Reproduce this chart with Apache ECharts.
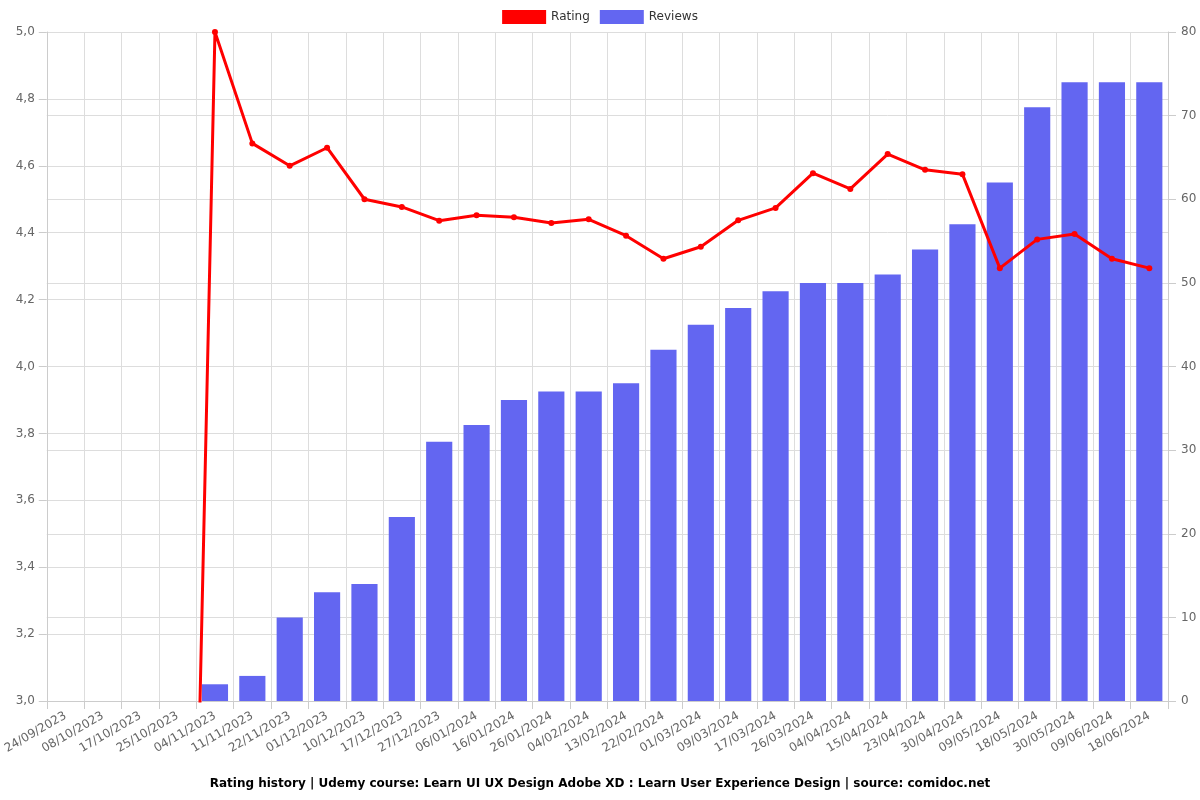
<!DOCTYPE html>
<html>
<head>
<meta charset="utf-8">
<script src="https://cdn.jsdelivr.net/npm/echarts@6/dist/echarts.min.js"></script>
<style>html,body{margin:0;padding:0;background:#fff}#c{width:1200px;height:800px}</style>
</head>
<body>
<div id="c"></div>
<script>
var categories = ["24/09/2023","08/10/2023","17/10/2023","25/10/2023","04/11/2023","11/11/2023","22/11/2023","01/12/2023","10/12/2023","17/12/2023","27/12/2023","06/01/2024","16/01/2024","26/01/2024","04/02/2024","13/02/2024","22/02/2024","01/03/2024","09/03/2024","17/03/2024","26/03/2024","04/04/2024","15/04/2024","23/04/2024","30/04/2024","09/05/2024","18/05/2024","30/05/2024","09/06/2024","18/06/2024"];
var rating = [0,0,0,0,5.0,4.667,4.6,4.654,4.5,4.477,4.436,4.452,4.446,4.429,4.44,4.391,4.322,4.358,4.437,4.474,4.578,4.531,4.635,4.588,4.575,4.294,4.38,4.396,4.322,4.294];
var reviews = [0,0,0,0,2,3,10,13,14,22,31,33,36,37,37,38,42,45,47,49,50,50,51,54,57,62,71,74,74,74];
var leftTicks = {min: 3, max: 5, interval: 0.2};
var rightTicks = {min: 0, max: 80, interval: 10};

var chart = echarts.init(document.getElementById('c'), null, {renderer: 'canvas'});
var font = 'DejaVu Sans';
chart.setOption({
  animation: false,
  textStyle: {fontFamily: font},
  title: {
    text: 'Rating history | Udemy course: Learn UI UX Design Adobe XD : Learn User Experience Design | source: comidoc.net',
    left: 'center', bottom: 5,
    textStyle: {fontSize: 12, fontWeight: 'bold', color: '#000', fontFamily: font}
  },
  legend: {
    top: 5, left: 'center', itemWidth: 44, itemHeight: 14, itemGap: 10,
    textStyle: {fontSize: 12, color: '#333', fontFamily: font},
    data: [{name: 'Rating', icon: 'rect'}, {name: 'Reviews', icon: 'rect'}]
  },
  grid: {left: 45, right: 32, top: 32, bottom: 99},
  xAxis: {
    type: 'category', data: categories, boundaryGap: true,
    axisLine: {lineStyle: {color: '#ccc'}},
    axisTick: {show: true, length: 8, lineStyle: {color: '#ccc'}},
    axisLabel: {rotate: 30, interval: 0, fontSize: 12, color: '#666', fontFamily: font, margin: 14},
    splitLine: {show: true, lineStyle: {color: '#ddd'}}
  },
  yAxis: [
    {type: 'value', min: leftTicks.min, max: leftTicks.max, interval: leftTicks.interval,
     axisLine: {show: true, lineStyle: {color: '#ccc'}},
     axisTick: {show: true, length: 8, lineStyle: {color: '#ccc'}},
     axisLabel: {color: '#666', fontSize: 12, fontFamily: font, margin: 12, formatter: function(v){return v.toFixed(1).replace('.', ',');}},
     splitLine: {show: true, lineStyle: {color: '#ddd'}}},
    {type: 'value', min: rightTicks.min, max: rightTicks.max, interval: rightTicks.interval,
     axisLine: {show: true, lineStyle: {color: '#ccc'}},
     axisTick: {show: true, length: 8, lineStyle: {color: '#ccc'}},
     axisLabel: {color: '#666', fontSize: 12, fontFamily: font, margin: 13},
     splitLine: {show: true, lineStyle: {color: '#ddd'}}}
  ],
  series: [
    {name: 'Rating', type: 'line', yAxisIndex: 0, data: rating, z: 3,
     color: '#ff0000', symbol: 'circle', symbolSize: 6, showAllSymbol: true,
     lineStyle: {width: 3, color: '#ff0000'}, itemStyle: {color: '#ff0000'}, clip: true},
    {name: 'Reviews', type: 'bar', yAxisIndex: 1, data: reviews, z: 2,
     color: '#6366f1', barCategoryGap: '30%',
     itemStyle: {color: '#6366f1'}}
  ]
});
</script>
</body>
</html>
